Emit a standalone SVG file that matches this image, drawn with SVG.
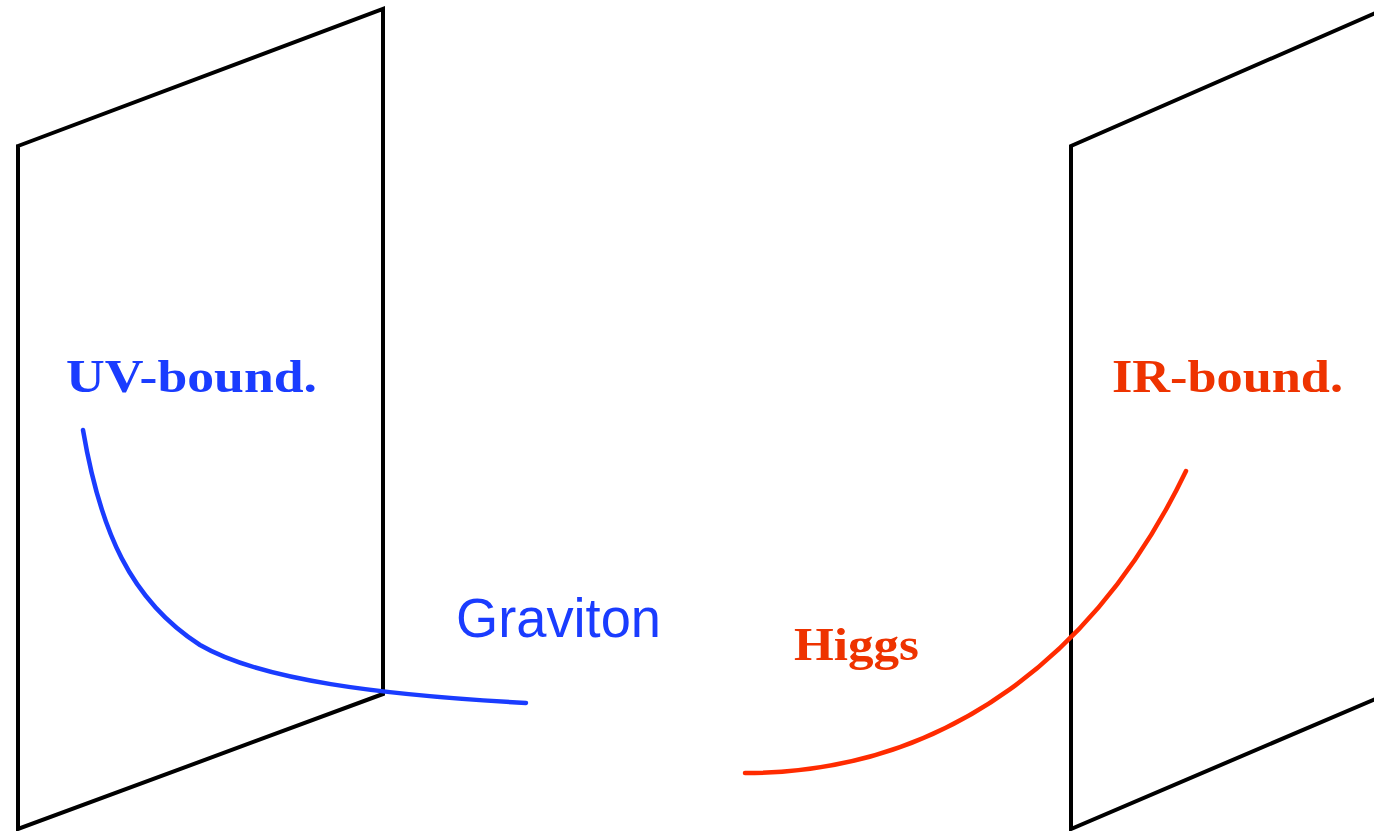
<svg xmlns="http://www.w3.org/2000/svg" width="1374" height="831" viewBox="0 0 1374 831">
<style>
.plane{fill:none;stroke:#000;stroke-width:4;stroke-linejoin:miter}
.curve{fill:none;stroke-width:4.5;stroke-linecap:round}
.lbl{font-family:"Liberation Serif","DejaVu Serif",serif;font-weight:bold;font-size:46px}
.sans{font-family:"Liberation Sans","DejaVu Sans",sans-serif;font-size:56px}
</style>
<rect width="1374" height="831" fill="#fff"/>
<g id="uv-brane">
<polygon class="plane" points="18,146 383,9 383,694 18,829"/>
</g>
<g id="ir-brane">
<polyline class="plane" points="1380,11 1071,146 1071,829 1380,697"/>
</g>
<g id="connectors">
<path id="graviton-curve" class="curve" stroke="#1a3cff" d="M83,430 C100,530 130,600 200,645 C260,680 380,695 526,703"/>
<path id="higgs-curve" class="curve" stroke="#ff2b00" d="M745,773 C950,773 1100,650 1186,471"/>
</g>
<g id="labels">
<text class="lbl" x="66" y="392" fill="#1a3cff" textLength="251" lengthAdjust="spacingAndGlyphs">UV-bound.</text>
<text class="sans" x="456" y="637" fill="#1a3cff" textLength="205" lengthAdjust="spacingAndGlyphs">Graviton</text>
<text class="lbl" x="794" y="660" fill="#ee3300" textLength="125" lengthAdjust="spacingAndGlyphs">Higgs</text>
<text class="lbl" x="1112" y="392" fill="#ee3300" textLength="231" lengthAdjust="spacingAndGlyphs">IR-bound.</text>
</g>
</svg>
